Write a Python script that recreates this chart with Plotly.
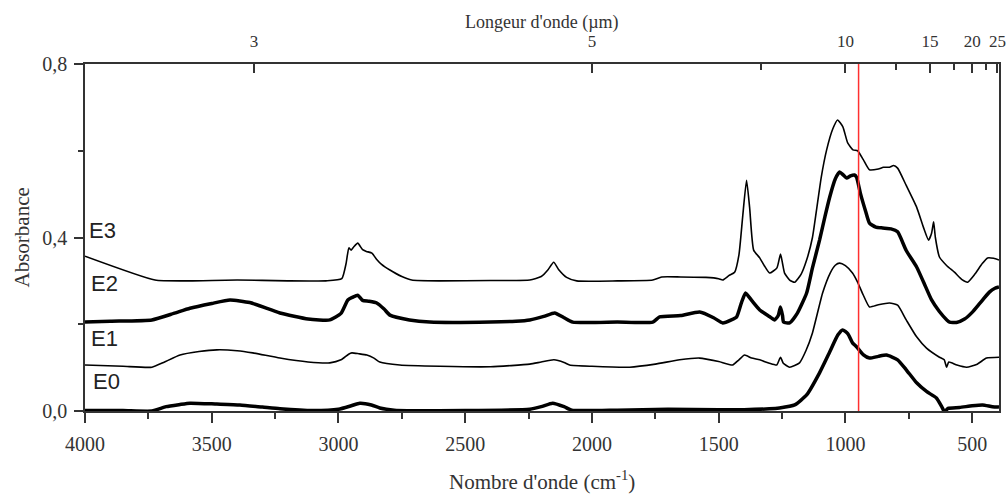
import plotly.graph_objects as go

# spectra (wavenumber cm-1, absorbance)
e3_wn = [4000, 3724, 3600, 3400, 3200, 3050, 2987, 2970, 2959, 2950, 2940, 2924, 2905, 2890, 2868, 2850,
         2830, 2797, 2750, 2711, 2600, 2400, 2245, 2200, 2174, 2151, 2130, 2100, 2060, 1900, 1760, 1725,
         1650, 1550, 1500, 1484, 1460, 1437, 1420, 1405, 1390, 1378, 1362, 1338, 1320, 1299, 1270, 1256,
         1248, 1240, 1220, 1200, 1175, 1153, 1130, 1114, 1095, 1074, 1050, 1031, 1010, 991, 970, 952,
         930, 905, 870, 850, 826, 810, 794, 760, 719, 690, 672, 660, 652, 645, 629, 600, 570, 540, 518,
         490, 460, 439, 415, 394]
e3_abs = [0.357, 0.302, 0.300, 0.302, 0.300, 0.300, 0.305, 0.340, 0.376, 0.371, 0.378, 0.387, 0.372, 0.368,
          0.364, 0.350, 0.338, 0.325, 0.310, 0.302, 0.300, 0.301, 0.302, 0.310, 0.325, 0.343, 0.325, 0.308,
          0.300, 0.300, 0.302, 0.309, 0.309, 0.308, 0.305, 0.302, 0.312, 0.320, 0.360, 0.450, 0.532, 0.470,
          0.371, 0.353, 0.335, 0.318, 0.330, 0.362, 0.340, 0.318, 0.302, 0.297, 0.315, 0.348, 0.400, 0.463,
          0.540, 0.602, 0.650, 0.671, 0.655, 0.618, 0.602, 0.600, 0.580, 0.556, 0.558, 0.562, 0.562, 0.566,
          0.560, 0.520, 0.470, 0.420, 0.394, 0.410, 0.436, 0.400, 0.355, 0.335, 0.320, 0.303, 0.297, 0.315,
          0.340, 0.353, 0.352, 0.348]

e2_wn = [4000, 3900, 3736, 3650, 3586, 3500, 3428, 3350, 3231, 3120, 3034, 2990, 2963, 2945, 2924, 2905,
         2880, 2849, 2820, 2797, 2720, 2640, 2400, 2300, 2245, 2190, 2147, 2110, 2076, 1900, 1760, 1733,
         1650, 1575, 1520, 1484, 1450, 1429, 1410, 1394, 1370, 1338, 1300, 1279, 1265, 1256, 1248, 1244,
         1220, 1190, 1153, 1130, 1102, 1080, 1062, 1040, 1023, 1010, 995, 980, 964, 956, 940, 920, 905,
         880, 853, 820, 794, 760, 719, 690, 660, 630, 600, 589, 562, 530, 499, 470, 432, 410, 394]
e2_abs = [0.205, 0.207, 0.210, 0.225, 0.237, 0.248, 0.256, 0.250, 0.226, 0.212, 0.210, 0.225, 0.256, 0.262,
          0.267, 0.255, 0.253, 0.249, 0.235, 0.221, 0.210, 0.205, 0.205, 0.207, 0.210, 0.218, 0.226, 0.215,
          0.205, 0.205, 0.205, 0.217, 0.220, 0.228, 0.215, 0.203, 0.210, 0.217, 0.250, 0.272, 0.255, 0.233,
          0.218, 0.210, 0.220, 0.240, 0.220, 0.205, 0.203, 0.225, 0.272, 0.330, 0.394, 0.450, 0.493, 0.535,
          0.551, 0.545, 0.537, 0.542, 0.544, 0.539, 0.500, 0.460, 0.433, 0.424, 0.422, 0.420, 0.413, 0.370,
          0.332, 0.295, 0.256, 0.230, 0.210, 0.205, 0.204, 0.212, 0.228, 0.248, 0.274, 0.283, 0.286]

e1_wn = [4000, 3850, 3736, 3690, 3625, 3550, 3480, 3400, 3338, 3231, 3120, 3034, 2990, 2960, 2947, 2920,
         2888, 2860, 2837, 2758, 2600, 2400, 2245, 2200, 2150, 2110, 2088, 2000, 1851, 1750, 1654, 1575,
         1500, 1445, 1420, 1398, 1370, 1338, 1300, 1271, 1256, 1245, 1220, 1181, 1155, 1130, 1090, 1060,
         1040, 1023, 1000, 972, 952, 930, 905, 870, 826, 794, 760, 719, 680, 629, 610, 601, 592, 560, 522,
         480, 443, 394]
e1_abs = [0.106, 0.103, 0.101, 0.112, 0.129, 0.137, 0.141, 0.139, 0.134, 0.122, 0.113, 0.111, 0.118, 0.131,
          0.134, 0.132, 0.129, 0.122, 0.113, 0.106, 0.103, 0.102, 0.108, 0.113, 0.118, 0.112, 0.106, 0.103,
          0.101, 0.108, 0.118, 0.122, 0.114, 0.106, 0.118, 0.129, 0.122, 0.118, 0.110, 0.106, 0.124, 0.110,
          0.101, 0.111, 0.140, 0.180, 0.272, 0.318, 0.336, 0.341, 0.335, 0.318, 0.297, 0.268, 0.240, 0.245,
          0.249, 0.244, 0.210, 0.171, 0.145, 0.124, 0.118, 0.101, 0.113, 0.106, 0.101, 0.108, 0.122, 0.124]

e0_wn = [4000, 3850, 3736, 3680, 3625, 3586, 3480, 3389, 3300, 3231, 3100, 3000, 2950, 2916, 2870, 2837,
         2780, 2500, 2245, 2200, 2155, 2110, 2080, 1900, 1700, 1500, 1400, 1300, 1260, 1200, 1153, 1102,
         1062, 1030, 1011, 990, 972, 956, 930, 905, 870, 838, 794, 760, 719, 680, 641, 620, 609, 595, 550,
         500, 459, 420, 394]
e0_abs = [0.001, 0.001, 0.000, 0.010, 0.015, 0.018, 0.016, 0.014, 0.009, 0.005, 0.001, 0.004, 0.012, 0.018,
          0.014, 0.007, 0.002, 0.001, 0.004, 0.010, 0.018, 0.010, 0.002, 0.002, 0.004, 0.003, 0.003, 0.005,
          0.007, 0.014, 0.037, 0.088, 0.136, 0.175, 0.187, 0.178, 0.157, 0.148, 0.130, 0.122, 0.126, 0.129,
          0.118, 0.095, 0.065, 0.045, 0.030, 0.010, -0.002, 0.006, 0.008, 0.012, 0.014, 0.010, 0.009]

labels = ["E3", "E2", "E1", "E0"]
wavelengths_um = [3, 5, 10, 15, 20, 25]
wavelengths_minor_um = [7.5, 12.5, 17.5, 22.5]
marker_wn = 948

series = [(e3_wn, e3_abs, 1.6), (e2_wn, e2_abs, 3.5), (e1_wn, e1_abs, 1.6), (e0_wn, e0_abs, 3.5)]

fig = go.Figure()
for (wn, ab, w), name in zip(series, labels):
    fig.add_trace(go.Scatter(x=wn, y=ab, mode="lines", name=name, showlegend=False,
                             line=dict(color="black", width=w, shape="spline", smoothing=0.5)))
# empty trace so the top wavelength axis gets drawn
fig.add_trace(go.Scatter(x=[None], y=[None], xaxis="x2", showlegend=False, hoverinfo="skip"))

serif = "Liberation Serif"
xr = [4000, 394]
fig.update_layout(
    width=1008, height=497,
    margin=dict(l=85, r=9, t=64, b=86, autoexpand=False),
    plot_bgcolor="white", paper_bgcolor="white",
    font=dict(family=serif, color="#333"),
    xaxis=dict(range=xr, tickmode="linear", tick0=500, dtick=500, ticks="outside", ticklen=10,
               tickwidth=1.5, tickcolor="#333", showline=True, linecolor="#333", linewidth=1.5,
               showgrid=False, zeroline=False, tickfont=dict(size=20, family=serif), automargin=False,
               ticklabelstandoff=4,
               minor=dict(dtick=250, ticks="outside", ticklen=6, tickwidth=1.5, tickcolor="#333")),
    xaxis2=dict(range=xr, overlaying="x", side="top", anchor="y", tickmode="array",
                tickvals=[10000 / w for w in wavelengths_um], ticktext=[str(w) for w in wavelengths_um],
                ticks="inside", ticklen=9, tickwidth=1.5, tickcolor="#333", showline=True,
                linecolor="#333", linewidth=1.5, showgrid=False, zeroline=False, automargin=False,
                tickfont=dict(size=17, family=serif), ticklabelstandoff=8,
                minor=dict(tickvals=[10000 / w for w in wavelengths_minor_um], ticks="inside",
                           ticklen=6, tickwidth=1.5, tickcolor="#333")),
    yaxis=dict(range=[0, 0.8], tickmode="array", tickvals=[0, 0.4, 0.8], ticktext=["0,0", "0,4", "0,8"],
               ticks="outside", ticklen=9, tickwidth=1.5, tickcolor="#333", showline=True, mirror=True,
               linecolor="#333", linewidth=1.5, showgrid=False, zeroline=False, automargin=False,
               tickfont=dict(size=20, family=serif), ticklabelstandoff=3,
               minor=dict(tickvals=[0.2, 0.6], ticks="outside", ticklen=5, tickwidth=1.5, tickcolor="#333")),
)

fig.add_shape(type="line", xref="x", yref="paper", x0=marker_wn, x1=marker_wn, y0=0, y1=1,
              line=dict(color="#ff3030", width=1.5))

# axis titles
fig.add_annotation(text="Nombre d'onde (cm<sup>-1</sup>)", xref="paper", yref="paper", x=0.5, y=-0.2,
                   showarrow=False, font=dict(size=21, family=serif, color="#333"), yanchor="middle")
fig.add_annotation(text="Longeur d'onde (µm)", xref="paper", yref="paper", x=0.5, y=1.12,
                   showarrow=False, font=dict(size=18, family=serif, color="#333"), yanchor="middle")
fig.add_annotation(text="Absorbance", xref="paper", yref="paper", x=-0.07, y=0.5, textangle=-90,
                   showarrow=False, font=dict(size=21, family=serif, color="#333"), xanchor="center")

# curve labels
label_pos = [(3930, 0.415), (3925, 0.295), (3925, 0.168), (3915, 0.067)]
for name, (lx, ly) in zip(labels, label_pos):
    fig.add_annotation(text=name, x=lx, y=ly, xref="x", yref="y", showarrow=False,
                       font=dict(size=22, family="Liberation Sans", color="#222"))

# drop the default page margin so the figure sits at the window's corner, and hide the modebar
fig.write_html("out.html", config={"displayModeBar": False},
               post_script="document.body.style.margin='0';")
